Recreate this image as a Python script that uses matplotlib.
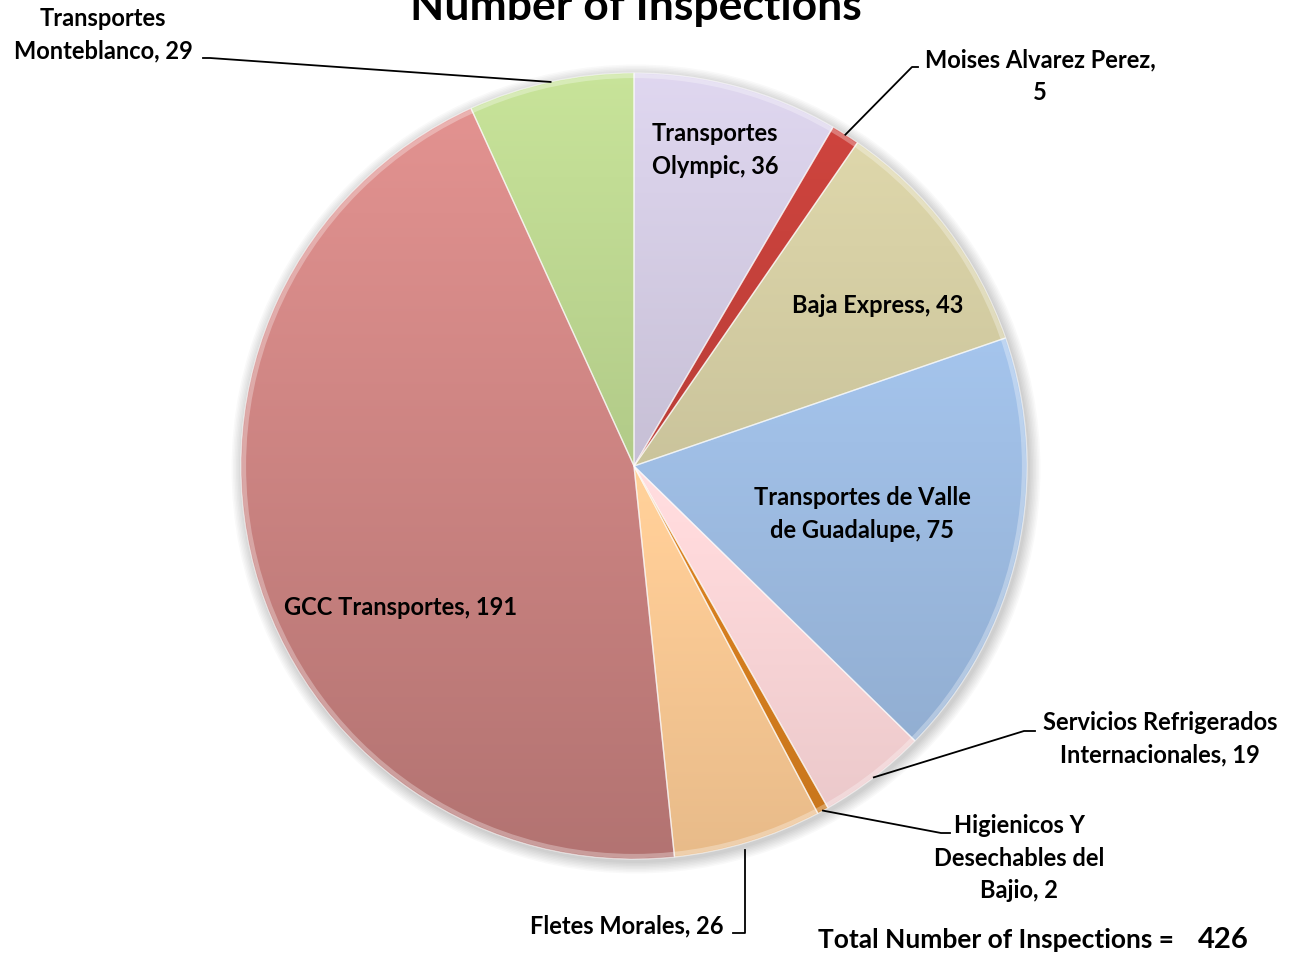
import numpy as np
import matplotlib.pyplot as plt
import matplotlib.colors as mcolors
from matplotlib.patches import Circle

# data
names = ["Transportes\nOlympic", "Moises Alvarez Perez,\n", "Baja Express",
         "Transportes de Valle\nde Guadalupe", "Servicios Refrigerados\nInternacionales",
         "Higienicos Y\nDesechables del\nBajio", "Fletes Morales", "GCC Transportes",
         "Transportes\nMonteblanco"]
counts = [36, 5, 43, 75, 19, 2, 26, 191, 29]
colors = ["#D9D1E9", "#C8423C", "#D8D1A6", "#A0BFE6", "#FDD8DA",
          "#D9801F", "#FDCC96", "#DC8E8C", "#C2DD95"]

W, H = 1290, 963
cx, cy, R = 634, 466, 393
plt.rcParams['font.family'] = ['Lato', 'DejaVu Sans']

fig = plt.figure(figsize=(W / 100, H / 100), dpi=100)
ax = fig.add_axes([0, 0, 1, 1])


def P(x, y):
    # picture pixel -> data coords (y up)
    return x, H - y


# soft shadow around the pie
for i in range(8):
    ax.add_patch(Circle(P(cx + 2, cy + 3), R + 1 + i * 1.5, color='k', alpha=0.025, lw=0, zorder=0))

wedges, _ = ax.pie(counts, colors=colors, startangle=90, counterclock=False,
                   radius=R, center=P(cx, cy),
                   wedgeprops=dict(edgecolor=(1, 1, 1, 0.55), linewidth=1.0))

# shading: each slice gets darker going down from its own top
k = 0.00029
for w, c in zip(wedges, colors):
    rgb = np.array(mcolors.to_rgb(c))
    th = np.radians(np.linspace(w.theta1, w.theta2, 200))
    xs = np.r_[w.center[0], w.center[0] + R * np.cos(th)]
    ys = np.r_[w.center[1], w.center[1] + R * np.sin(th)]
    y0, y1 = ys.min(), ys.max()
    t = np.linspace(0, 1, 256)[:, None]
    f = 1.03 - k * (y1 - y0) * t
    img = np.clip(rgb[None, :] * f, 0, 1)[:, None, :]
    im = ax.imshow(img, extent=(xs.min(), xs.max(), y0, y1), origin='upper',
                   aspect='auto', zorder=w.get_zorder() - 0.1, interpolation='bilinear')
    im.set_clip_path(w)
    w.set_facecolor('none')
    w.set_zorder(w.get_zorder() + 0.2)

# outer rim highlight
ax.add_patch(Circle(P(cx, cy), R - 3, fill=False, edgecolor=(1, 1, 1, 0.3), lw=3, zorder=3))

# angles of each wedge middle (degrees, math convention)
cum = np.cumsum([0] + counts)
total = sum(counts)
mids = [90 - (cum[i] + counts[i] / 2) / total * 360 for i in range(len(counts))]


def edge_pt(i):
    a = np.radians(mids[i])
    return cx + R * np.cos(a), cy - R * np.sin(a)


fs = 17
kw = dict(fontsize=fs, fontweight='bold', ha='center', va='center', linespacing=1.5, zorder=5)

# labels inside
ax.text(*P(715, 150), f"{names[0]}, {counts[0]}", **kw)
ax.text(*P(878, 305), f"{names[2]}, {counts[2]}", **kw)
ax.text(*P(862, 514), f"{names[3]}, {counts[3]}", **kw)
ax.text(*P(401, 607), f"{names[7]}, {counts[7]}", **kw)

# outside labels with leader lines
ax.text(*P(1040, 76), f"{names[1]}{counts[1]}", **kw)
ex, ey = edge_pt(1)
ax.plot(*zip(P(ex, ey), P(912, 67), P(918, 67)), color='k', lw=1.3, zorder=5)

ax.text(*P(1160, 739), f"{names[4]}, {counts[4]}", **kw)
ex, ey = edge_pt(4)
ax.plot(*zip(P(ex, ey), P(1024, 731), P(1035, 731)), color='k', lw=1.3, zorder=5)

ax.text(*P(1019, 858), f"{names[5]}, {counts[5]}", **kw)
ex, ey = edge_pt(5)
ax.plot(*zip(P(ex, ey), P(941, 833), P(950, 833)), color='k', lw=1.3, zorder=5)

ax.text(*P(627, 926), f"{names[6]}, {counts[6]}", **kw)
ex, ey = edge_pt(6)
ax.plot(*zip(P(745, ey + 8), P(745, 933), P(733, 933)), color='k', lw=1.3, zorder=5)

ax.text(*P(103, 35), f"{names[8]}, {counts[8]}", **kw)
ex, ey = edge_pt(8)
ax.plot(*zip(P(ex, ey), P(210, 58), P(203, 58)), color='k', lw=1.3, zorder=5)

# title (cut at the top edge in the original)
ax.text(*P(636, 20), "Number of Inspections", fontsize=32, fontweight='bold',
        ha='center', va='baseline')

ax.text(*P(1187, 948), "Total Number of Inspections =  ", fontsize=19, fontweight='bold',
        ha='right', va='baseline')
ax.text(*P(1198, 948), f"{total}", fontsize=21, fontweight='bold', ha='left', va='baseline')

ax.set_xlim(0, W)
ax.set_ylim(0, H)
ax.set_aspect('equal')
ax.axis('off')

fig.savefig("out.png", dpi=100)
